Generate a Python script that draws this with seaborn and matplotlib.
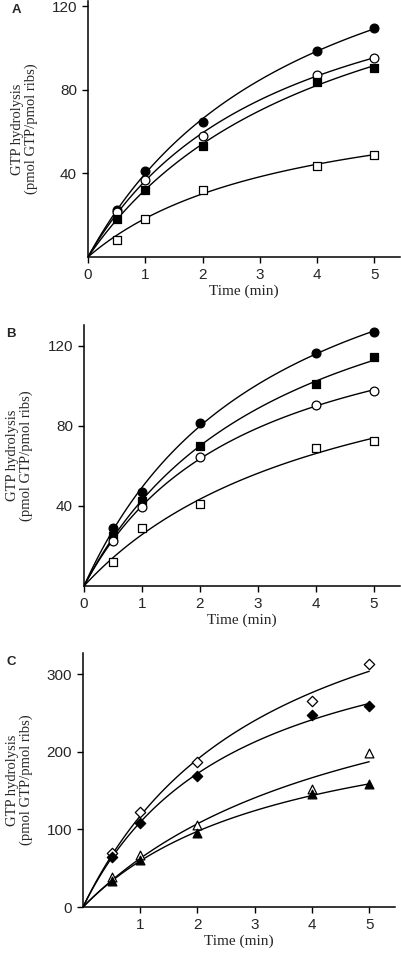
import numpy as np
import pandas as pd
import matplotlib
matplotlib.use("Agg")
import matplotlib.pyplot as plt
import seaborn as sns

# Data (time in min, GTP hydrolysis in pmol GTP/pmol ribs)
time = [0.5, 1, 2, 4, 5]

# panel A
a_filled_circle = [22.4, 41.0, 64.8, 98.6, 109.4]
a_open_circle = [21.4, 37.0, 58.0, 87.0, 95.4]
a_filled_square = [18.4, 32.2, 52.9, 83.8, 90.6]
a_open_square = [8.0, 18.4, 32.2, 43.5, 49.0]

# panel B
b_filled_circle = [29.2, 47.0, 81.3, 116.3, 127.0]
b_filled_square = [25.2, 42.7, 70.0, 100.8, 114.3]
b_open_circle = [22.7, 39.3, 64.7, 90.5, 97.3]
b_open_square = [11.8, 28.8, 41.0, 68.8, 72.5]

# panel C
c_open_diamond = [69.6, 122.5, 187.0, 265.0, 313.0]
c_filled_diamond = [64.5, 108.7, 169.0, 246.7, 258.7]
c_open_triangle = [38.7, 67.5, 106.0, 151.7, 198.5]
c_filled_triangle = [33.5, 60.2, 95.8, 145.0, 158.0]

sns.set_style("ticks")
plt.rcParams['font.family'] = ['Liberation Sans', 'DejaVu Sans']


def fit_curve(t, y):
    # least-squares hyperbola y = V t / (K + t) through the origin
    t = np.asarray(t, float)
    y = np.asarray(y, float)
    best = None
    for K in np.linspace(0.2, 40, 800):
        f = t / (K + t)
        V = (f @ y) / (f @ f)
        err = ((V * f - y) ** 2).sum()
        if best is None or err < best[0]:
            best = (err, V, K)
    tt = np.linspace(0, 5, 100)
    return pd.DataFrame({'t': tt, 'y': best[1] * tt / (best[2] + tt)})


def draw_panel(ax, series, ylim, yticks, xticks, letter):
    for vals, marker, filled in series:
        curve = fit_curve(time, vals)
        sns.lineplot(data=curve, x='t', y='y', ax=ax, color='black', lw=1.0)
    for vals, marker, filled in series:
        pts = pd.DataFrame({'t': time, 'y': vals})
        ms = 28 if marker == 'D' else 40
        sns.scatterplot(data=pts, x='t', y='y', ax=ax, marker=marker, s=ms,
                        color='black' if filled else 'white',
                        edgecolor='black', linewidth=0.9, zorder=5)
    ax.set_xlim(0, 5.45)
    ax.set_ylim(*ylim)
    ax.set_yticks(yticks)
    ax.set_xticks(xticks)
    ax.tick_params(labelsize=11, length=4, width=1.0, color='black', pad=4)
    for s in ('top', 'right'):
        ax.spines[s].set_visible(False)
    for s in ('left', 'bottom'):
        ax.spines[s].set_linewidth(1.1)
        ax.spines[s].set_color('black')
    ax.set_xlabel('Time (min)', family='Liberation Serif', fontsize=11,
                  labelpad=2)
    ax.set_ylabel('GTP hydrolysis\n(pmol GTP/pmol ribs)',
                  family='Liberation Serif', fontsize=10.5, linespacing=1.1)
    ax.yaxis.set_label_coords(-0.16, 0.5)
    ax.text(-0.245, 0.99, letter, transform=ax.transAxes, fontsize=9.5,
            fontweight='bold', ha='left', va='top')


fig = plt.figure(figsize=(4.01, 9.57), dpi=100)
ax_a = fig.add_axes([0.2195, 0.7315, 0.778, 0.2675])
ax_b = fig.add_axes([0.2095, 0.3877, 0.788, 0.2727])
ax_c = fig.add_axes([0.207, 0.0522, 0.778, 0.2654])

draw_panel(ax_a, [(a_filled_circle, 'o', True), (a_open_circle, 'o', False),
                  (a_filled_square, 's', True), (a_open_square, 's', False)],
           (0, 122.5), [40, 80, 120], [0, 1, 2, 3, 4, 5], 'A')
draw_panel(ax_b, [(b_filled_circle, 'o', True), (b_filled_square, 's', True),
                  (b_open_circle, 'o', False), (b_open_square, 's', False)],
           (0, 130.5), [40, 80, 120], [0, 1, 2, 3, 4, 5], 'B')
draw_panel(ax_c, [(c_open_diamond, 'D', False), (c_filled_diamond, 'D', True),
                  (c_open_triangle, '^', False), (c_filled_triangle, '^', True)],
           (0, 327), [0, 100, 200, 300], [1, 2, 3, 4, 5], 'C')

fig.savefig('out.png', dpi=100)
